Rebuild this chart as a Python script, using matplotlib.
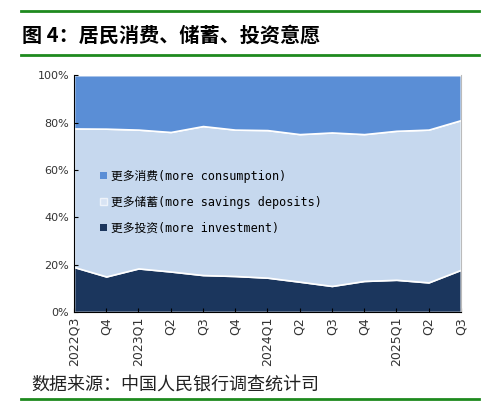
import matplotlib.pyplot as plt
from matplotlib.lines import Line2D
from matplotlib.patches import Patch

quarters = ["2022Q3", "Q4", "2023Q1", "Q2", "Q3", "Q4", "2024Q1",
            "Q2", "Q3", "Q4", "2025Q1", "Q2", "Q3"]
investment = [19.0, 15.0, 18.4, 17.1, 15.6, 15.2, 14.5, 12.8, 11.0, 13.1, 13.6, 12.5, 17.8]
savings_top = [77.5, 77.4, 77.0, 76.0, 78.5, 77.0, 76.8, 75.1, 75.8, 75.1, 76.5, 77.0, 81.0]
savings = [t - i for t, i in zip(savings_top, investment)]
consumption = [100 - t for t in savings_top]

c_cons = "#5a8ed6"
c_save = "#c6d8ee"
c_inv = "#1b365d"
green = "#1e8a1e"
cjk = ["Noto Sans CJK SC", "DejaVu Sans"]
mono = ["DejaVu Sans Mono", "Noto Sans CJK SC"]

fig = plt.figure(figsize=(4.95, 4.17), dpi=100)
ax = fig.add_axes([0.1495, 0.2518, 0.7815, 0.568])

x = list(range(len(quarters)))
ax.stackplot(x, investment, savings, consumption,
             colors=[c_inv, c_save, c_cons], edgecolor="white", linewidth=1.2)

ax.set_xlim(0, len(quarters) - 1)
ax.set_ylim(0, 100)
ax.set_yticks([0, 20, 40, 60, 80, 100])
ax.set_yticklabels([f"{v}%" for v in range(0, 101, 20)], fontsize=8, color="#333333")
ax.set_xticks(x)
ax.set_xticklabels(quarters, rotation=90, fontsize=9, color="#333333")
ax.tick_params(direction="in", length=3, width=0.8)
ax.spines["top"].set_visible(False)
ax.spines["right"].set_color("#bbbbbb")
ax.spines["left"].set_color("black")
ax.spines["bottom"].set_color("black")

handles = [Patch(facecolor=c_cons), Patch(facecolor="#d8e4f4", edgecolor="#eef3fa"),
           Patch(facecolor=c_inv)]
labels = ["更多消费(more consumption)", "更多储蓄(more savings deposits)", "更多投资(more investment)"]
ax.legend(handles, labels, loc="upper left", bbox_to_anchor=(0.04, 0.645),
          frameon=False, handlelength=0.6, handleheight=0.6, handletextpad=0.3,
          labelspacing=1.1, prop={"family": mono, "size": 8.5})

fig.text(0.044, 0.915, "图 4：居民消费、储蓄、投资意愿", fontsize=14.5, fontweight="bold",
         family=cjk, va="center")
fig.text(0.064, 0.075, "数据来源：中国人民银行调查统计司", fontsize=13, family=cjk,
         va="center", color="#222222")
for yy in [0.974, 0.868, 0.043]:
    fig.add_artist(Line2D([0.042, 0.968], [yy, yy], color=green, linewidth=2))

plt.savefig("out.png")
